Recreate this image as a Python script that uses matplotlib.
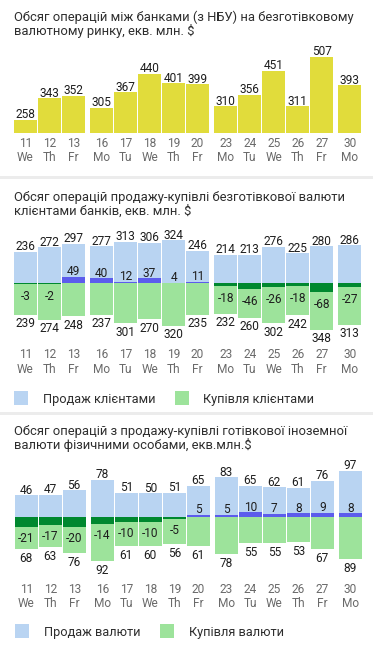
import matplotlib
matplotlib.use("Agg")
import matplotlib.pyplot as plt
from matplotlib.patches import Rectangle
from matplotlib.transforms import blended_transform_factory
import numpy as np

# Data
days = [11, 12, 13, 16, 17, 18, 19, 20, 23, 24, 25, 26, 27, 30]
weekdays = ["We", "Th", "Fr", "Mo", "Tu", "We", "Th", "Fr", "Mo", "Tu", "We", "Th", "Fr", "Mo"]

interbank = [258, 343, 352, 305, 367, 440, 401, 399, 310, 356, 451, 311, 507, 393]

client_sale = [236, 272, 297, 277, 313, 306, 324, 246, 214, 213, 276, 225, 280, 286]
client_buy = [239, 274, 248, 237, 301, 270, 320, 235, 232, 260, 302, 242, 348, 313]
client_net = [-3, -2, 49, 40, 12, 37, 4, 11, -18, -46, -26, -18, -68, -27]

cash_sale = [46, 47, 56, 78, 51, 50, 51, 65, 83, 65, 62, 61, 76, 97]
cash_buy = [68, 63, 76, 92, 61, 60, 56, 61, 78, 55, 55, 53, 67, 89]
cash_net = [-21, -17, -20, -14, -10, -10, -5, 5, 5, 10, 7, 8, 9, 8]

title1 = ["Обсяг операцій між банками (з НБУ) на безготівковому",
          "валютному ринку, екв. млн. $"]
title2 = ["Обсяг операцій продажу-купівлі безготівкової валюти",
          "клієнтами банків, екв. млн. $"]
title3 = ["Обсяг операцій з продажу-купівлі готівкової іноземної",
          "валюти фізичними особами, екв.млн.$"]
legend2 = ["Продаж клієнтами", "Купівля клієнтами"]
legend3 = ["Продаж валюти", "Купівля валюти"]

# Colours
YELLOW = "#e1dc3b"
BLUE = "#b9d4f2"
GREEN = "#9de39b"
DKGREEN = "#00882f"
PURPLE = "#5c5cec"
TXT = "#2e2e2e"
TICK = "#6a6a6a"

W, H = 373, 646
plt.rcParams["font.family"] = ["Roboto", "DejaVu Sans"]

fig = plt.figure(figsize=(W / 100, H / 100), dpi=100)
fig.patch.set_facecolor("white")


def fx(px):
    return px / W


def fy(py):
    return 1 - py / H


# bar positions with a small gap between weeks
pos = []
group = 0
for i, wd in enumerate(weekdays):
    if wd == "Mo" and i > 0:
        group += 1
    pos.append(i + group * 0.17)
pos = np.array(pos)
BW = 0.96


def make_axes(bottom_px, ylim, scale, dx=0.0):
    h = (ylim[1] - ylim[0]) * scale
    ax = fig.add_axes([fx(13.5 + dx), fy(bottom_px), fx(348), h / H])
    ax.set_xlim(-0.5, 14.0)
    ax.set_ylim(*ylim)
    ax.axis("off")
    return ax


def label(ax, x, y, text, dy_px):
    ax.annotate(text, (x, y), xytext=(0, dy_px * 0.72), textcoords="offset points",
                ha="center", va="baseline", fontsize=8.6, color="#1e1e1e",
                annotation_clip=False)


def ticks(ax, y_day, y_wd):
    tr = blended_transform_factory(ax.transData, fig.transFigure)
    for x, d, w in zip(pos, days, weekdays):
        fig.text(x, fy(y_day), str(d), transform=tr, ha="center", va="baseline",
                 fontsize=8.6, color=TICK)
        fig.text(x, fy(y_wd), w, transform=tr, ha="center", va="baseline",
                 fontsize=8.6, color=TICK)


def title(lines, y1, y2):
    fig.text(fx(14), fy(y1), lines[0], ha="left", va="baseline", fontsize=9.35, color=TXT)
    fig.text(fx(14), fy(y2), lines[1], ha="left", va="baseline", fontsize=9.35, color=TXT)


def legend(labels, y_c, x_patches, x_texts):
    for lab, xp, xt, c in zip(labels, x_patches, x_texts, [BLUE, GREEN]):
        fig.add_artist(Rectangle((fx(xp), fy(y_c + 7)), 14 / W, 14 / H,
                                 transform=fig.transFigure, fc=c, ec="none"))
        fig.text(fx(xt), fy(y_c + 4.6), lab, ha="left", va="baseline",
                 fontsize=9.2, color=TXT)


def net_chart(ax, sale, buy, net, buy_dy, neg_dy):
    ax.bar(pos, sale, width=BW, color=BLUE)
    ax.bar(pos, [-b for b in buy], width=BW, color=GREEN)
    net_col = [PURPLE if n > 0 else DKGREEN for n in net]
    ax.bar(pos, net, width=BW, color=net_col)
    for x, s, b, n in zip(pos, sale, buy, net):
        label(ax, x, s, str(s), 1.5)
        label(ax, x, -b, str(b), -buy_dy)
        if n > 0:
            label(ax, x, n, str(n), 1.4)
        else:
            label(ax, x, n, str(n), -neg_dy)


# separators between panels
for y in [176, 412]:
    fig.add_artist(Rectangle((0, fy(y + 2.5)), 1, 2.5 / H, transform=fig.transFigure,
                             fc="#ececec", ec="none"))

# Chart 1: interbank market
ax1 = make_axes(133, (205, 560), 0.253)
ax1.bar(pos, interbank, width=BW, color=YELLOW)
for x, v in zip(pos, interbank):
    label(ax1, x, v, str(v), 1.4)
ticks(ax1, 147.2, 161.2)
title(title1, 20.7, 35)

# Chart 2: clients of banks
ax2 = make_axes(283.3 + 380 * 0.133, (-380, 380), 0.133)
net_chart(ax2, client_sale, client_buy, client_net, 12.3, 16)
ticks(ax2, 358.2, 373.2)
title(title2, 200.7, 215)
legend(legend2, 398, [14, 175], [43.3, 203.3])

# Chart 3: cash currency
ax3 = make_axes(517 + 100 * 0.477, (-100, 110), 0.477, dx=0.7)
net_chart(ax3, cash_sale, cash_buy, cash_net, 12.9, 15)
ticks(ax3, 593.2, 606.9)
title(title3, 435.3, 449.3)
legend(legend3, 631, [15, 160], [44.3, 189])

fig.savefig("out.png", dpi=100, facecolor=fig.get_facecolor())
